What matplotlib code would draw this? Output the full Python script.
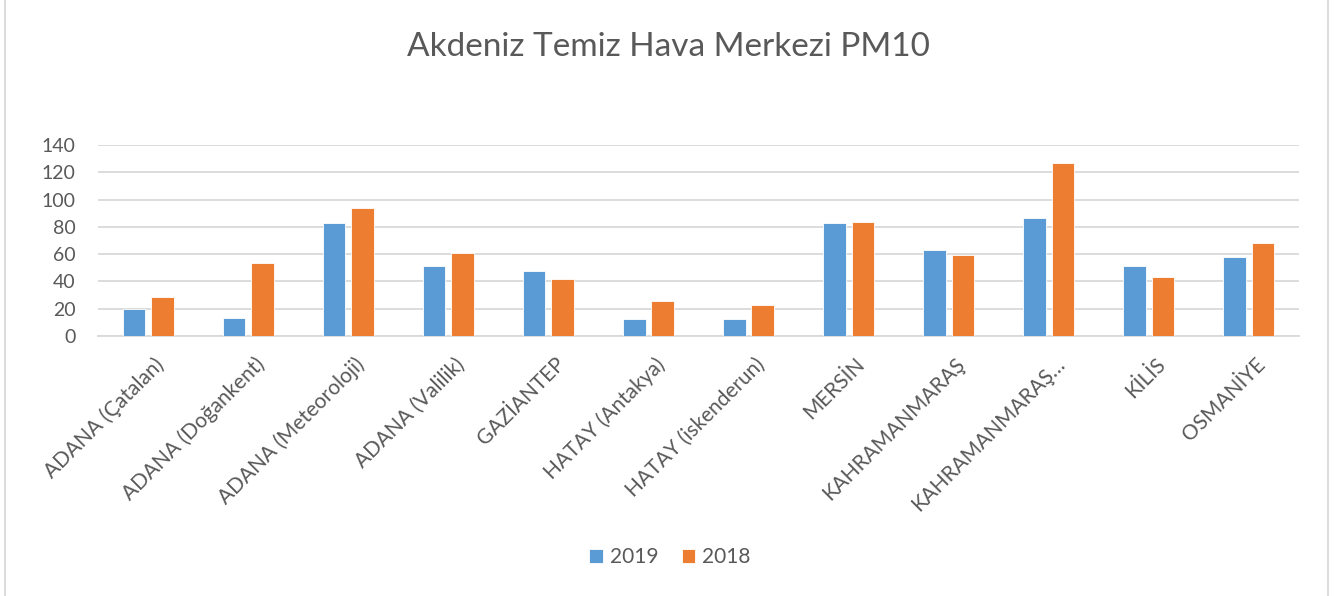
import matplotlib
matplotlib.use("Agg")
import matplotlib.pyplot as plt
from matplotlib.lines import Line2D
import matplotlib.transforms as mtransforms
import numpy as np

categories = ["ADANA (Çatalan)", "ADANA (Doğankent)", "ADANA (Meteoroloji)", "ADANA (Valilik)",
              "GAZİANTEP", "HATAY (Antakya)", "HATAY (iskenderun)", "MERSİN",
              "KAHRAMANMARAŞ", "KAHRAMANMARAŞ…", "KİLİS", "OSMANİYE"]
values_2019 = [19.5, 13.5, 82.5, 51.5, 47.5, 12.5, 12.5, 82.5, 63, 86.5, 51.5, 58]
values_2018 = [28.5, 53.5, 93.5, 60.5, 41.5, 25.5, 22.5, 83.5, 59.5, 127, 43.5, 68.5]
series_names = ["2019", "2018"]
yticks = [0, 20, 40, 60, 80, 100, 120, 140]
title = "Akdeniz Temiz Hava Merkezi PM10"

plt.rcParams['font.family'] = ['Lato', 'DejaVu Sans']
text_color = '#595959'

fig = plt.figure(figsize=(13.35, 5.96), dpi=100)
ax = fig.add_axes([98/1335, 1-336/596, (1299-98)/1335, (336-145)/596])

x = np.arange(len(categories))
w = 0.225
off = 0.142
b1 = ax.bar(x - off, values_2019, w, color='#5B9BD5', label=series_names[0], zorder=3,
            edgecolor='white', linewidth=0.6)
b2 = ax.bar(x + off, values_2018, w, color='#ED7D31', label=series_names[1], zorder=3,
            edgecolor='white', linewidth=0.6)

ax.set_xlim(-0.5, len(categories) - 0.5)
ax.set_ylim(0, 140)
ax.set_yticks(yticks)
ax.set_yticklabels([str(v) for v in yticks])
ax.yaxis.grid(True, color='#D9D9D9', linewidth=1.3, zorder=0)
ax.set_axisbelow(True)
for s in ['top', 'right', 'left']:
    ax.spines[s].set_visible(False)
ax.spines['bottom'].set_color('#D9D9D9')
ax.spines['bottom'].set_linewidth(1.3)
ax.tick_params(axis='y', length=0, pad=16, labelsize=14, labelcolor=text_color)
ax.tick_params(axis='x', length=0, pad=13, labelsize=15, labelcolor=text_color)
ax.set_xticks(x)
ax.set_xticklabels(categories, rotation=45, ha='right', va='top', rotation_mode='anchor')
shift = mtransforms.ScaledTranslation(6/100, 0, fig.dpi_scale_trans)
for lbl in ax.get_xticklabels():
    lbl.set_transform(lbl.get_transform() + shift)

fig.text(668/1335, 1-47/596, title, ha='center', va='center', fontsize=24, color=text_color)

leg = fig.legend(handles=[b1, b2], labels=series_names, loc='center',
                 bbox_to_anchor=(670/1335, 1-557/596), ncol=2, frameon=False,
                 fontsize=15, handlelength=0.65, handleheight=0.65, columnspacing=1.1,
                 handletextpad=0.35)
for t in leg.get_texts():
    t.set_color(text_color)

fig.add_artist(Line2D([5/1335, 5/1335], [0, 1], color='#D9D9D9', linewidth=1.3))
fig.add_artist(Line2D([1328/1335, 1328/1335], [0, 1], color='#D9D9D9', linewidth=1.3))

fig.savefig('out.png', dpi=100)
